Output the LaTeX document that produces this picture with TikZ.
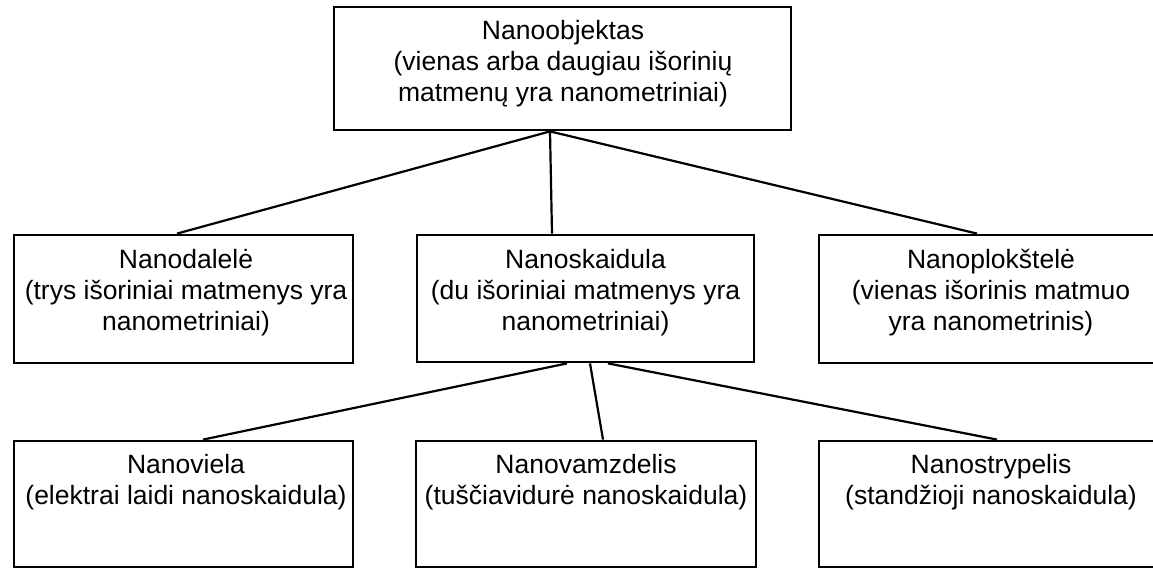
\documentclass[tikz,border=0pt]{standalone}
\usepackage{fontspec}
\setmainfont{Liberation Sans}
\begin{document}
\begin{tikzpicture}[x=1pt,y=-1pt,
  box/.style={draw=black, line width=2.8pt, rectangle, inner sep=0pt},
  txt/.style={align=center, inner sep=0pt, font=\fontsize{26.5}{31}\selectfont},
  conn/.style={draw=black, line width=2.2pt}]
\useasboundingbox (0,0) rectangle (1153,569);
\fill[white] (0,0) rectangle (1153,569);
% boxes
\node[box, minimum width=457pt, minimum height=123pt] (top) at (562.5,68.5) {};
\node[box, minimum width=339pt, minimum height=128pt] (dal) at (183.5,299) {};
\node[box, minimum width=337pt, minimum height=127pt] (ska) at (585.5,298.5) {};
\node[box, minimum width=346pt, minimum height=128pt] (plo) at (992,299) {};
\node[box, minimum width=339pt, minimum height=126pt] (vie) at (183.5,504) {};
\node[box, minimum width=340pt, minimum height=126pt] (vam) at (586,504) {};
\node[box, minimum width=346pt, minimum height=126pt] (str) at (992,504) {};
% texts
\node[txt] (ttop) at (563,64) {Nanoobjektas\\(vienas arba daugiau išorinių\\matmenų yra nanometriniai)};
\node[txt] (tdal) at (186,293) {Nanodalelė\\(trys išoriniai matmenys yra\\nanometriniai)};
\node[txt] (tska) at (585.5,293) {Nanoskaidula\\(du išoriniai matmenys yra\\nanometriniai)};
\node[txt] (tplo) at (991,293) {Nanoplokštelė\\(vienas išorinis matmuo\\yra nanometrinis)};
\node[txt] (tvie) at (186,482) {Nanoviela\\(elektrai laidi nanoskaidula)};
\node[txt] (tvam) at (586,482) {Nanovamzdelis\\(tuščiavidurė nanoskaidula)};
\node[txt] (tstr) at (991,482) {Nanostrypelis\\(standžioji nanoskaidula)};
% connectors
\coordinate (j1) at ([xshift=-12.5pt]top.south);
\draw[conn] (j1) -- ([xshift=-6.5pt]dal.north);
\draw[conn] (j1) -- ([xshift=-33.5pt]ska.north);
\draw[conn] (j1) -- ([xshift=-15pt]plo.north);
\draw[conn] ([xshift=-18.5pt]ska.south) -- ([xshift=19.5pt]vie.north);
\draw[conn] ([xshift=4.5pt]ska.south) -- ([xshift=17pt]vam.north);
\draw[conn] ([xshift=22.5pt]ska.south) -- ([xshift=5pt]str.north);
\end{tikzpicture}
\end{document}
